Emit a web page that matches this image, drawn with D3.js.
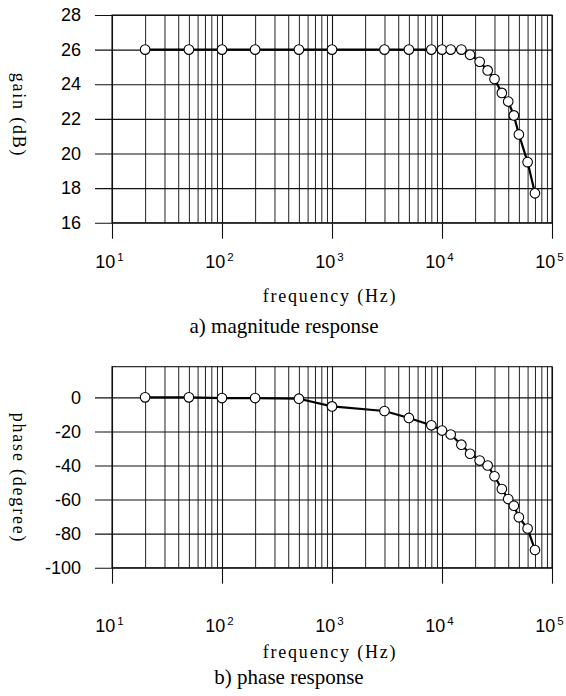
<!DOCTYPE html>
<html>
<head>
<meta charset="utf-8">
<script src="https://cdn.jsdelivr.net/npm/d3@7"></script>
<style>
  body { margin: 0; background: #fff; }
  svg { display: block; }
  .tick text { font-family: "Liberation Sans", Arial, sans-serif; fill: #000; }
  .serif { font-family: "Liberation Serif", "Times New Roman", serif; fill: #000; }
</style>
</head>
<body>
<div id="chart"></div>
<script>
// measured points (Hz)
var freqs = [20, 50, 100, 200, 500, 1000, 3000, 5000, 8000, 10000, 12000, 15000,
             18000, 22000, 26000, 30000, 35000, 40000, 45000, 50000, 60000, 70000];
var gain  = [26, 26, 26, 26, 26, 26, 26, 26, 26, 26, 26, 26,
             25.7, 25.3, 24.8, 24.3, 23.5, 23.0, 22.2, 21.1, 19.5, 17.7];
var phase = [0, 0, -0.4, -0.4, -0.8, -5.3, -8.0, -12.1, -16.4, -19.5, -21.8, -27.8,
             -33.1, -37.1, -40, -46.3, -53.8, -59.7, -63.6, -70.4, -77, -89.6];

var decades = [10, 100, 1000, 10000, 100000];
var gainTicks = [16, 18, 20, 22, 24, 26, 28];
var phaseTicks = [0, -20, -40, -60, -80, -100];

var W = 566, H = 696;
var svg = d3.select("#chart").append("svg")
    .attr("width", W)
    .attr("height", H);

// vertical grid: every 2..9 x 10^k inside the decades
var gridFreqs = [];
decades.forEach(function(d, i) {
  if (i == decades.length - 1) return;
  for (var m = 2; m <= 9; m++) gridFreqs.push(d * m);
});

function panel(opts) {
  var x = d3.scaleLog().domain([10, 1e5]).range([112, 552]);
  var y = d3.scaleLinear().domain(opts.ydomain).range(opts.yrange);
  var g = svg.append("g");
  var top = opts.yrange[1], bottom = opts.yrange[0];
  var h = bottom - top;

  // minor vertical lines
  g.append("g")
    .attr("transform", "translate(0," + bottom + ")")
    .call(d3.axisBottom(x).tickValues(gridFreqs).tickSize(-h).tickFormat(""))
    .call(function(a) {
      a.select(".domain").remove();
      a.selectAll("line").attr("stroke", "#222").attr("stroke-width", 1);
    });

  // decade lines, with ticks sticking out below
  var xa = g.append("g")
    .attr("transform", "translate(0," + bottom + ")")
    .call(d3.axisBottom(x).tickValues(decades).tickSize(16).tickPadding(opts.xpad));
  xa.select(".domain").remove();
  xa.selectAll("line").attr("y2", 16).attr("y1", -h)
    .attr("stroke", "#111").attr("stroke-width", 1.1);
  xa.selectAll("text").each(function(d) {
    var t = d3.select(this).text("").attr("font-size", 18).attr("dx", "-3");
    t.append("tspan").text("10");
    t.append("tspan").text(Math.round(Math.log10(d)))
      .attr("font-size", 11.5).attr("dy", "-7").attr("dx", "2");
  });

  // horizontal grid, extending left of the frame
  var ya = g.append("g")
    .attr("transform", "translate(112,0)")
    .call(d3.axisLeft(y).tickValues(opts.yticks).tickSize(-440)
          .tickPadding(31).tickFormat(function(d) { return String(d); }));
  ya.select(".domain").remove();
  ya.selectAll("line").attr("x1", -17).attr("stroke", "#111").attr("stroke-width", 1.1);
  ya.selectAll("text").attr("font-size", 18);

  // frame
  g.append("rect")
    .attr("x", 112).attr("y", top)
    .attr("width", 440).attr("height", h)
    .attr("fill", "none").attr("stroke", "#111").attr("stroke-width", 1.1);

  var line = d3.line()
    .x(function(d, i) { return x(freqs[i]); })
    .y(function(d) { return y(d); });

  g.append("path")
    .datum(opts.values)
    .attr("d", line)
    .attr("fill", "none")
    .attr("stroke", "#000")
    .attr("stroke-width", 2.2);

  g.selectAll("circle")
    .data(opts.values)
    .enter().append("circle")
    .attr("cx", function(d, i) { return x(freqs[i]); })
    .attr("cy", function(d) { return y(d); })
    .attr("r", 4.8)
    .attr("fill", "#fff")
    .attr("stroke", "#000")
    .attr("stroke-width", 1.1);

  // axis titles
  g.append("text").attr("class", "serif")
    .attr("x", 330).attr("y", opts.xtitleY)
    .attr("text-anchor", "middle")
    .attr("font-size", 18).attr("letter-spacing", 1.8)
    .text("frequency (Hz)");

  g.append("text").attr("class", "serif")
    .attr("transform", "translate(13," + opts.ytitleY + ") rotate(90)")
    .attr("text-anchor", "middle")
    .attr("font-size", 18).attr("letter-spacing", 1.8)
    .text(opts.ytitle);

  g.append("text").attr("class", "serif")
    .attr("x", opts.capX).attr("y", opts.capY)
    .attr("text-anchor", "middle")
    .attr("font-size", 21)
    .text(opts.caption);
}

panel({
  values: gain, ydomain: [16, 28], yrange: [222.7, 15], yticks: gainTicks,
  xpad: 17, xtitleY: 302, ytitle: "gain (dB)", ytitleY: 115,
  caption: "a) magnitude response", capX: 284, capY: 333
});

panel({
  values: phase, ydomain: [-100, 18], yrange: [567.7, 366.7], yticks: phaseTicks,
  xpad: 36, xtitleY: 658, ytitle: "phase (degree)", ytitleY: 478,
  caption: "b) phase response", capX: 289, capY: 684
});
</script>
</body>
</html>
